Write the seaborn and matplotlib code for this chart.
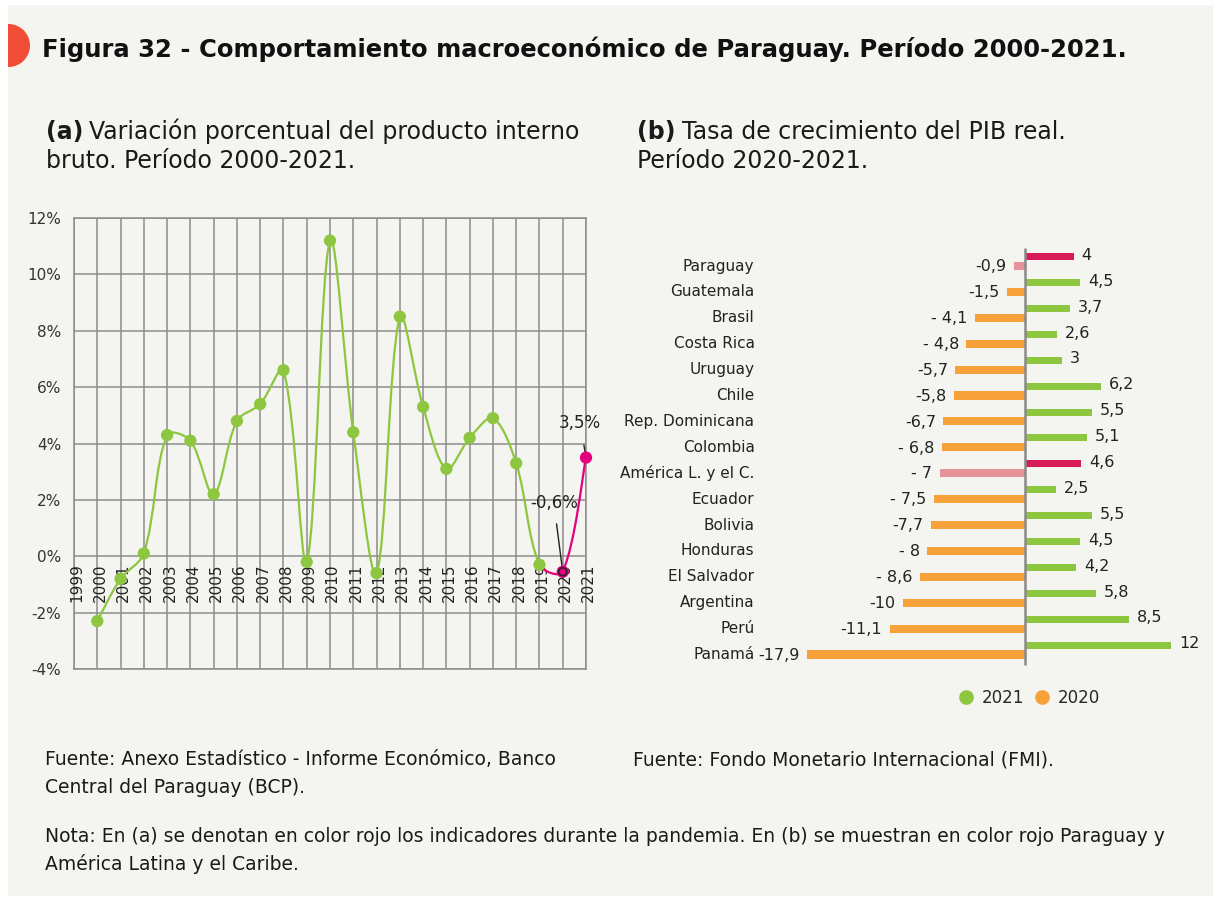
import numpy as np
import pandas as pd
import matplotlib
matplotlib.use("Agg")
import matplotlib.pyplot as plt
from matplotlib.path import Path
from matplotlib.patches import PathPatch, Rectangle, Ellipse
from matplotlib.lines import Line2D
import seaborn as sns

# ---------------- data ----------------
years = [2000, 2001, 2002, 2003, 2004, 2005, 2006, 2007, 2008, 2009, 2010,
         2011, 2012, 2013, 2014, 2015, 2016, 2017, 2018, 2019, 2020, 2021]
pib_var = [-2.3, -0.8, 0.1, 4.3, 4.1, 2.2, 4.8, 5.4, 6.6, -0.2, 11.2,
           4.4, -0.6, 8.5, 5.3, 3.1, 4.2, 4.9, 3.3, -0.3, -0.55, 3.5]
year_ticks = list(range(1999, 2022))
y_ticks = [-4, -2, 0, 2, 4, 6, 8, 10, 12]
y_tick_labels = ["-4%", "-2%", "0%", "2%", "4%", "6%", "8%", "10%", "12%"]

countries = ["Paraguay", "Guatemala", "Brasil", "Costa Rica", "Uruguay", "Chile",
             "Rep. Dominicana", "Colombia", "América L. y el C.", "Ecuador",
             "Bolivia", "Honduras", "El Salvador", "Argentina", "Perú", "Panamá"]
g2020 = [-0.9, -1.5, -4.1, -4.8, -5.7, -5.8, -6.7, -6.8, -7, -7.5, -7.7, -8,
         -8.6, -10, -11.1, -17.9]
g2021 = [4, 4.5, 3.7, 2.6, 3, 6.2, 5.5, 5.1, 4.6, 2.5, 5.5, 4.5, 4.2, 5.8, 8.5, 12]
lab2020 = ["-0,9", "-1,5", "- 4,1", "- 4,8", "-5,7", "-5,8", "-6,7", "- 6,8",
           "- 7", "- 7,5", "-7,7", "- 8", "- 8,6", "-10", "-11,1", "-17,9"]
lab2021 = ["4", "4,5", "3,7", "2,6", "3", "6,2", "5,5", "5,1", "4,6", "2,5",
           "5,5", "4,5", "4,2", "5,8", "8,5", "12"]
highlight = ["Paraguay", "América L. y el C."]

# ---------------- style ----------------
GREEN = "#8dc63f"
ORANGE = "#f7a13b"
MAGENTA = "#e6007e"
CRIMSON = "#d81b5a"
PINK = "#e8929c"
PANEL = "#f4f4f0"
TXT = "#1a1a1a"
GRID = "#8c8c8c"

sns.set_theme(style="white")
plt.rcParams["font.family"] = ["DejaVu Sans"]

W, H = 1215, 899
fig = plt.figure(figsize=(W / 100, H / 100), dpi=100, facecolor="white")

def fx(px):
    return px / W

def fy(py):
    return 1 - py / H

panel = Rectangle((fx(8), fy(896)), fx(1213) - fx(8), fy(5) - fy(896),
                  transform=fig.transFigure, facecolor=PANEL, edgecolor="none", zorder=-10)
fig.patches.append(panel)
dot = Ellipse((fx(8.5), fy(45.5)), 2 * 21.5 / W, 2 * 21.5 / H, transform=fig.transFigure,
              facecolor="#f04e37", edgecolor="none", zorder=-5)
dot.set_clip_path(panel)
fig.patches.append(dot)

fig.text(fx(42), fy(57), "Figura 32 - Comportamiento macroeconómico de Paraguay. Período 2000-2021.",
         fontsize=17.5, fontweight="bold", color="#111", va="baseline", ha="left")

renderer = fig.canvas.get_renderer()
fs_sub = 17

def mixed(x, y, bold, rest, size=fs_sub):
    t = fig.text(fx(x), fy(y), bold, fontsize=size, fontweight="bold", color=TXT,
                 va="baseline", ha="left")
    bb = t.get_window_extent(renderer=renderer)
    fig.text(fx(x) + bb.width / W + fx(6), fy(y), rest, fontsize=size, color=TXT,
             va="baseline", ha="left")

mixed(46, 139, "(a)", "Variación porcentual del producto interno")
fig.text(fx(46), fy(168), "bruto. Período 2000-2021.", fontsize=fs_sub, color=TXT, va="baseline")
mixed(637, 139, "(b)", "Tasa de crecimiento del PIB real.")
fig.text(fx(637), fy(168), "Período 2020-2021.", fontsize=fs_sub, color=TXT, va="baseline")

fs_foot = 13.5
fig.text(fx(45), fy(765), "Fuente: Anexo Estadístico - Informe Económico, Banco",
         fontsize=fs_foot, color=TXT, va="baseline")
fig.text(fx(45), fy(793), "Central del Paraguay (BCP).", fontsize=fs_foot, color=TXT, va="baseline")
fig.text(fx(633), fy(765), "Fuente: Fondo Monetario Internacional (FMI).",
         fontsize=fs_foot, color=TXT, va="baseline")
fig.text(fx(45), fy(842), "Nota: En (a) se denotan en color rojo los indicadores durante la pandemia. "
         "En (b) se muestran en color rojo Paraguay y", fontsize=fs_foot, color=TXT, va="baseline")
fig.text(fx(45), fy(870), "América Latina y el Caribe.", fontsize=fs_foot, color=TXT, va="baseline")

# ---------------- (a) line chart ----------------
AX_L, AX_R, AX_T, AX_B = 74, 586, 218, 669
ax1 = fig.add_axes([fx(AX_L), fy(AX_B), fx(AX_R) - fx(AX_L), fy(AX_T) - fy(AX_B)])
ax1.set_facecolor("none")
ax1.set_xlim(1999, 2021)
ax1.set_ylim(-4, 12)
ax1.set_xticks(year_ticks)
ax1.set_xticklabels([])
ax1.set_yticks(y_ticks)
ax1.set_yticklabels(y_tick_labels, fontsize=11, color="#333")
ax1.tick_params(axis="both", length=0, pad=9)
ax1.grid(True, color=GRID, lw=1.1)
for s in ax1.spines.values():
    s.set_color(GRID)
    s.set_linewidth(1.1)
for yr in year_ticks:
    ax1.text(yr + 0.12, -0.25, str(yr), rotation=90, ha="center", va="top",
             fontsize=11, color="#222")

# smooth curve: cubic Bezier path with length-weighted tangents (screen space)
sx = (AX_R - AX_L) / 22.0
sy = (AX_B - AX_T) / 16.0
P = np.column_stack([np.array(years, float) * sx, np.array(pib_var, float) * sy])

def bezier_segment(i):
    n = len(P)
    p0, p1, p2 = P[max(i - 1, 0)], P[i], P[i + 1]
    p3 = P[min(i + 2, n - 1)]
    d01 = np.linalg.norm(p1 - p0)
    d12 = np.linalg.norm(p2 - p1)
    d23 = np.linalg.norm(p3 - p2)
    f1 = 2 * d12 / (d01 + d12) if d01 > 0 else 1.0
    f2 = 2 * d12 / (d12 + d23) if d23 > 0 else 1.0
    c1 = p1 + (p2 - p0) / 6 * f1
    c2 = p2 - (p3 - p1) / 6 * f2
    return [p / np.array([sx, sy]) for p in (p1, c1, c2, p2)]

def curve(i0, i1, color):
    verts, codes = [], []
    for i in range(i0, i1):
        seg = bezier_segment(i)
        if not verts:
            verts.append(seg[0]); codes.append(Path.MOVETO)
        verts += seg[1:]
        codes += [Path.CURVE4] * 3
    ax1.add_patch(PathPatch(Path(verts, codes), facecolor="none", edgecolor=color,
                            lw=1.6, zorder=3, capstyle="round"))

i2019 = years.index(2019)
curve(0, i2019, GREEN)
curve(i2019, len(years) - 1, MAGENTA)

df_a = pd.DataFrame({"year": years, "value": pib_var,
                     "period": ["pandemia" if y >= 2020 else "normal" for y in years]})
sns.scatterplot(data=df_a, x="year", y="value", hue="period",
                palette={"normal": GREEN, "pandemia": MAGENTA}, s=78,
                edgecolor="none", legend=False, ax=ax1, zorder=4, clip_on=False)
ax1.scatter([2020], [pib_var[years.index(2020)]], s=34, facecolor="none",
            edgecolor="#222", lw=1.1, zorder=5)
ax1.set_xlabel("")
ax1.set_ylabel("")

ax1.annotate("-0,6%", xy=(2020, pib_var[years.index(2020)]), xytext=(2019.62, 1.88),
             ha="center", va="center", fontsize=12, color="#222",
             arrowprops=dict(arrowstyle="-", color="#222", lw=1.0, shrinkA=6, shrinkB=0))
ax1.annotate("3,5%", xy=(2021, 3.5), xytext=(2020.75, 4.72),
             ha="center", va="center", fontsize=12, color="#222",
             arrowprops=dict(arrowstyle="-", color="#222", lw=1.0, shrinkA=7, shrinkB=0))

# ---------------- (b) bar chart ----------------
ZERO_PX, PPU = 1025, 12.2
ax2 = fig.add_axes([fx(600), fy(680), fx(1205) - fx(600), fy(240) - fy(680)])
ax2.set_facecolor("none")
pos = np.arange(len(countries), dtype=float)
off = 0.36
df_b = pd.DataFrame({"country": countries, "pos20": pos, "pos21": pos - off,
                     "g2020": g2020, "g2021": g2021})
pal20 = {c: (PINK if c in highlight else ORANGE) for c in countries}
pal21 = {c: (CRIMSON if c in highlight else GREEN) for c in countries}
sns.barplot(data=df_b, x="g2020", y="pos20", hue="country", palette=pal20, dodge=False,
            native_scale=True, orient="y", width=0.31, legend=False, errorbar=None,
            saturation=1, linewidth=0, edgecolor="none", ax=ax2)
sns.barplot(data=df_b, x="g2021", y="pos21", hue="country", palette=pal21, dodge=False,
            native_scale=True, orient="y", width=0.27, legend=False, errorbar=None,
            saturation=1, linewidth=0, edgecolor="none", ax=ax2)
ax2.set_xlim(-(ZERO_PX - 600) / PPU, (1205 - ZERO_PX) / PPU)
ax2.set_ylim((680 - 266) / 25.9, (240 - 266) / 25.9)
ax2.axis("off")
ax2.vlines(0, -0.7, 15.4, color="#8a8a8a", lw=1.8, zorder=5)

for i, c in enumerate(countries):
    ax2.text((754.5 - ZERO_PX) / PPU, pos[i], c, ha="right", va="center",
             fontsize=11, color="#222")
    ax2.text(g2020[i] - 0.6, pos[i] + 0.03, lab2020[i], ha="right", va="center",
             fontsize=11.5, color="#222")
    ax2.text(g2021[i] + 0.65, pos[i] - off - 0.05, lab2021[i], ha="left", va="center",
             fontsize=11.5, color="#222")

handles = [Line2D([], [], marker="o", ls="none", color=GREEN, markersize=9.5),
           Line2D([], [], marker="o", ls="none", color=ORANGE, markersize=9.5)]
fig.legend(handles, ["2021", "2020"], loc="center", bbox_to_anchor=(fx(1029), fy(698)),
           ncol=2, frameon=False, fontsize=12, handletextpad=0.45, columnspacing=0.6,
           handlelength=1.0)

fig.savefig("out.png", dpi=100, facecolor="white")
